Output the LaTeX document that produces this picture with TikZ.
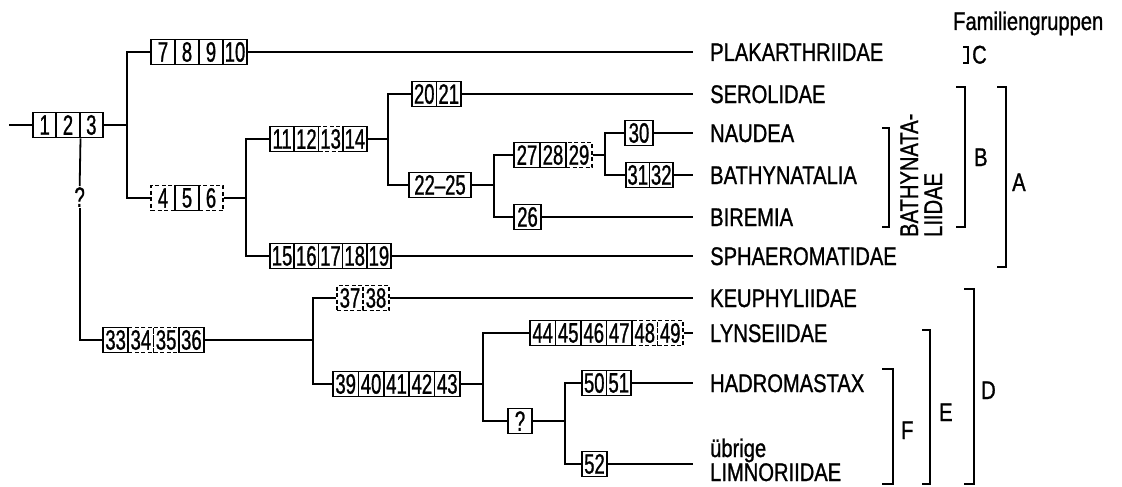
\documentclass[tikz,border=0pt]{standalone}
\usepackage{fontspec}
\setmainfont{Liberation Sans}[FakeStretch=0.79,FakeBold=1.0]
\newfontfamily\digfont{Liberation Sans}[FakeStretch=0.66,FakeBold=0.9]
\newcommand\labfont{\fontsize{25.5}{28}\selectfont}
\newcommand\cellfont{\digfont\fontsize{28}{30}\selectfont}
\tikzset{
  ln/.style={line width=1.8pt},
  cell/.style={draw, line width=1.7pt, minimum height=25pt, inner sep=0pt, font=\cellfont},
  solidcell/.style={},
  dashcell/.style={dash pattern=on 4pt off 2.5pt},
  lab/.style={font=\labfont, inner sep=0pt, anchor=base west},
}
\newcommand\cellrow[5]{%
  \foreach \lab/\sty [count=\i] in {#5}{%
    \node[cell,\sty,minimum width=#3pt] (#1\i) at ({#2+(\i-0.5)*#3},#4) {\lab};
  }}
\begin{document}
\begin{tikzpicture}[x=1pt,y=-1pt]
\fill[white] (0,0) rectangle (1122,487);
\useasboundingbox (0,0) rectangle (1122,487);

% boxes
\cellrow{r}{33}{23.33}{125}{1/solidcell,2/solidcell,3/solidcell}
\cellrow{p}{151}{24}{52}{7/solidcell,8/solidcell,9/solidcell,10/solidcell}
\cellrow{q}{151}{24}{198}{4/dashcell,5/solidcell,6/dashcell}
\cellrow{s}{270}{24.25}{139}{11/solidcell,12/solidcell,13/dashcell,14/solidcell}
\cellrow{t}{270}{24.2}{256}{15/solidcell,16/solidcell,17/solidcell,18/solidcell,19/solidcell}
\cellrow{u}{412}{24.5}{94}{20/solidcell,21/solidcell}
\cellrow{v}{409}{62}{185}{22\textendash 25/solidcell}
\cellrow{w}{514}{26}{155}{27/solidcell,28/solidcell,29/dashcell}
\cellrow{b}{514}{27}{217}{26/solidcell}
\cellrow{c}{625}{28}{133}{30/solidcell}
\cellrow{z}{626}{23.5}{175}{31/solidcell,32/solidcell}
\cellrow{m}{103}{25.25}{340}{33/solidcell,34/dashcell,35/dashcell,36/solidcell}
\cellrow{k}{337}{26}{298}{37/dashcell,38/dashcell}
\cellrow{n}{333}{25.4}{384}{39/solidcell,40/solidcell,41/solidcell,42/solidcell,43/solidcell}
\cellrow{l}{530}{25.5}{333}{44/solidcell,45/solidcell,46/solidcell,47/solidcell,48/dashcell,49/dashcell}
\cellrow{h}{508}{24}{421}{?/solidcell}
\cellrow{g}{582}{24.5}{383}{50/solidcell,51/solidcell}
\cellrow{f}{582}{25}{464}{52/solidcell}

% question mark on the lower stem
\node[font=\cellfont, inner sep=1pt] (qm) at (79.66,197) {?};

% junctions
\coordinate (start) at (9,125);
\coordinate (j1) at (127,125);
\coordinate (j2) at (246,198);
\coordinate (j3) at (388,139);
\coordinate (j4) at (494,185);
\coordinate (j5) at (605,155);
\coordinate (j6) at (79.66,340);
\coordinate (j7) at (313,340);
\coordinate (j8) at (483,384);
\coordinate (j9) at (565,421);

% leaf ends
\coordinate (e1) at (693,52);
\coordinate (e2) at (693,94);
\coordinate (e3) at (693,133);
\coordinate (e4) at (693,175);
\coordinate (e5) at (693,217);
\coordinate (e6) at (693,256);
\coordinate (e7) at (693,298);
\coordinate (e8) at (693,333);
\coordinate (e9) at (693,383);
\coordinate (e10) at (693,464);

% connectors
\draw[ln] (start) -- (r1.west);
\draw[ln] (r3.east) -- (j1);
\draw[ln] (p1.west) -| (j1) |- (q1.west);
\draw[ln] (q3.east) -- (j2);
\draw[ln] (s1.west) -| (j2) |- (t1.west);
\draw[ln] (s4.east) -- (j3);
\draw[ln] (u1.west) -| (j3) |- (v1.west);
\draw[ln] (v1.east) -- (j4);
\draw[ln] (w1.west) -| (j4) |- (b1.west);
\draw[ln] (w3.east) -- (j5);
\draw[ln] (c1.west) -| (j5) |- (z1.west);
\draw[ln] (r2.south east) -- (qm.north);
\draw[ln] (qm.south) -- (j6) -- (m1.west);
\draw[ln] (m4.east) -- (j7);
\draw[ln] (k1.west) -| (j7) |- (n1.west);
\draw[ln] (n5.east) -- (j8);
\draw[ln] (l1.west) -| (j8) |- (h1.west);
\draw[ln] (h1.east) -- (j9);
\draw[ln] (g1.west) -| (j9) |- (f1.west);

\draw[ln] (p4.east) -- (e1);
\draw[ln] (u2.east) -- (e2);
\draw[ln] (c1.east) -- (e3);
\draw[ln] (z2.east) -- (e4);
\draw[ln] (b1.east) -- (e5);
\draw[ln] (t5.east) -- (e6);
\draw[ln] (k2.east) -- (e7);
\draw[ln] (l6.east) -- (e8);
\draw[ln] (g2.east) -- (e9);
\draw[ln] (f1.east) -- (e10);

% leaf labels
\node[lab] (L1) at (710,61) {PLAKARTHRIIDAE};
\node[lab] (L2) at (710,103) {SEROLIDAE};
\node[lab] (L3) at (710,142) {NAUDEA};
\node[lab] (L4) at (710,184) {BATHYNATALIA};
\node[lab] (L5) at (710,226) {BIREMIA};
\node[lab] (L6) at (710,265) {SPHAEROMATIDAE};
\node[lab] (L7) at (710,307) {KEUPHYLIIDAE};
\node[lab] (L8) at (710,342) {LYNSEIIDAE};
\node[lab] (L9) at (710,392) {HADROMASTAX};
\node[lab] (L10) at (710,457) {übrige};
\node[lab] (L11) at (710,481) {LIMNORIIDAE};

% family group brackets
\node[lab] (FG) at (953,30) {Familiengruppen};
\draw[ln] (963,47) -- (968,47) -- (968,63) -- (963,63);
\node[lab] (gC) at (972,63.5) {C};
\draw[ln] (956,87) -- (965,87) -- (965,227) -- (956,227);
\node[lab] (gB) at (974,166) {B};
\draw[ln] (997,87) -- (1006,87) -- (1006,267) -- (997,267);
\node[lab] (gA) at (1012,191) {A};
\draw[ln] (882,128) -- (889,128) -- (889,227) -- (882,227);
\node[lab, rotate=90] (bt1) at (918,237) {BATHYNATA-};
\node[lab, rotate=90] (bt2) at (942,237) {LIIDAE};
\draw[ln] (882,369) -- (893,369) -- (893,484) -- (882,484);
\node[lab] (gF) at (901,439) {F};
\draw[ln] (922,330) -- (930,330) -- (930,484) -- (922,484);
\node[lab] (gE) at (939,421) {E};
\draw[ln] (964,289) -- (974,289) -- (974,484) -- (964,484);
\node[lab] (gD) at (981,399) {D};
\end{tikzpicture}
\end{document}
